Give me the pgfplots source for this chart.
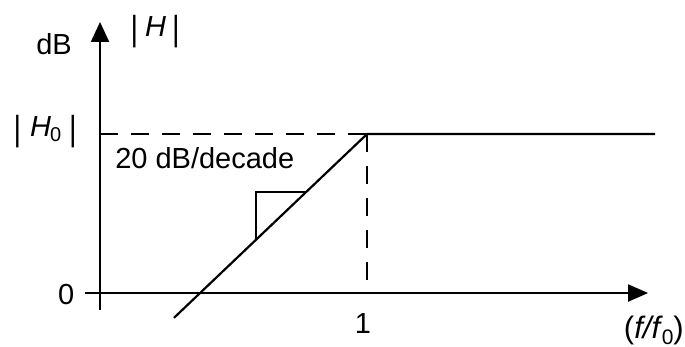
\documentclass[border=0pt]{standalone}
\usepackage{pgfplots}
\pgfplotsset{compat=1.18}
\usepackage{fontspec}
\setmainfont{Liberation Sans}
\usetikzlibrary{arrows.meta}

\newcommand{\magbar}{\raisebox{-0.14em}{\scalebox{1}[1.2]{|}}}

\begin{document}
\begin{tikzpicture}
% x: log10(f/f0) in decades, y: gain in dB with |H0| = 20 dB
\begin{axis}[
  name=ax,
  width=685pt, height=347pt, scale only axis,
  xmin=-2.198, xmax=1.904,
  ymin=-6.79, ymax=36.86,
  hide axis, clip=false,
  nodes={font=\fontsize{29}{34}\selectfont, inner sep=0pt},
]
% axes with arrowheads
\draw[line width=2pt, -{Triangle[length=20pt,width=17pt]}]
  (axis cs:-1.689,0) -- (axis cs:1.683,0);
\draw[line width=2pt, -{Triangle[length=20pt,width=18pt]}]
  (axis cs:-1.599,-2.14) -- (axis cs:-1.599,34.1);

% asymptotic magnitude: +20 dB/decade up to f0, flat afterwards
\addplot[black, mark=none, line width=2.2pt]
  coordinates {(-1.156,-3.12) (0,20) (1.725,20)};

% guide lines to |H0| and to f/f0 = 1
\addplot[black, mark=none, line width=2pt, dash pattern=on 18pt off 13pt]
  coordinates {(-1.599,20) (0,20)};
\addplot[black, mark=none, line width=2pt, dash pattern=on 18pt off 14pt]
  coordinates {(0,20) (0,0)};

% slope triangle
\addplot[black, mark=none, line width=2pt]
  coordinates {(-0.665,6.7) (-0.665,12.7) (-0.365,12.7)};

% labels
\node at (axis cs:-1.874,31.3) {dB};
\node at (axis cs:-1.269,32.9) {\magbar\kern7pt\textit{H}\kern6pt\magbar};
\node at (axis cs:-1.928,20.25) {\magbar\kern9pt\textit{H}\kern-1pt\raisebox{-0.3ex}{\fontsize{20}{20}\selectfont 0}\kern8pt\magbar};
\node at (axis cs:-1.802,-0.25) {0};
\node at (axis cs:-0.025,-3.9) {1};
\node[anchor=west] at (axis cs:-1.509,17.0) {20 dB/decade};
\node[anchor=east] at (axis cs:1.898,-4.7) {\fontsize{31}{34}\selectfont(\textit{f/f}\kern-1pt\raisebox{-0.35ex}{\fontsize{21}{21}\selectfont 0})};
\end{axis}
\pgfresetboundingbox
\path (ax.south west) rectangle (ax.north east);
\end{tikzpicture}
\end{document}
